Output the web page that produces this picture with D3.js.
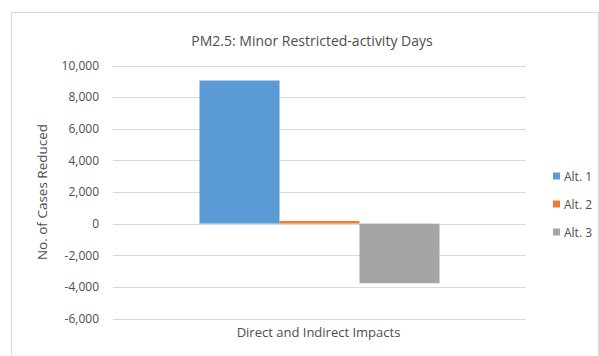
<!DOCTYPE html>
<html>
<head>
<meta charset="utf-8">
<script src="https://cdn.jsdelivr.net/npm/d3@7"></script>
<style>
  html, body { margin: 0; padding: 0; background: #fff; }
  svg { display: block; font-family: "Open Sans", "Liberation Sans", sans-serif; }
</style>
</head>
<body>
<svg id="chart" width="599" height="356"></svg>
<script>
// Chart data
const categories = ["Direct and Indirect Impacts"];
const seriesNames = ["Alt. 1", "Alt. 2", "Alt. 3"];
const seriesValues = [9050, 170, -3770];
const seriesColors = ["#5b9bd5", "#ed7d31", "#a5a5a5"];
const yTicks = [-6000, -4000, -2000, 0, 2000, 4000, 6000, 8000, 10000];
const titleText = "PM2.5: Minor Restricted-activity Days";
const yAxisTitle = "No. of Cases Reduced";

const svg = d3.select("#chart");
const W = 599, H = 356;
const textColor = "#4d4d4d";

// Outer chart frame
svg.append("rect")
  .attr("x", 11.5).attr("y", 12.5)
  .attr("width", W - 12).attr("height", H - 12)
  .attr("fill", "#fff").attr("stroke", "#d9d9d9").attr("stroke-width", 1);

const plot = { left: 113, right: 526, top: 65.5, bottom: 318.5 };

const y = d3.scaleLinear().domain([-6000, 10000]).range([plot.bottom, plot.top]);
const x0 = d3.scaleBand().domain(categories).range([plot.left, plot.right]).paddingInner(0).paddingOuter(0);
// Cluster width: three bars with a gap on each side of the group
const groupFrac = 240 / 413;
const x1 = d3.scaleBand().domain(seriesNames)
  .range([0, x0.bandwidth() * groupFrac]);
const groupOffset = (x0.bandwidth() * (1 - groupFrac)) / 2;

// Gridlines
svg.append("g")
  .selectAll("line")
  .data(yTicks)
  .join("line")
  .attr("x1", plot.left).attr("x2", plot.right)
  .attr("y1", d => Math.round(y(d)) + 0.5).attr("y2", d => Math.round(y(d)) + 0.5)
  .attr("stroke", "#d9d9d9").attr("stroke-width", 1);

// Y axis tick labels (plain hyphen for negatives)
const fmt = d3.format(",");
const yAxis = d3.axisLeft(y).tickValues(yTicks).tickSize(0).tickPadding(0)
  .tickFormat(d => fmt(d).replace("\u2212", "-"));
const gy = svg.append("g").attr("transform", `translate(${plot.left - 14},0)`).call(yAxis);
gy.select(".domain").remove();
gy.selectAll("text")
  .attr("fill", textColor)
  .style("font-family", "'Open Sans', 'Liberation Sans', sans-serif")
  .style("font-size", "12px");

// Bars
svg.append("g")
  .selectAll("rect")
  .data(seriesNames.map((n, i) => ({ name: n, value: seriesValues[i], color: seriesColors[i], cat: categories[0] })))
  .join("rect")
  .attr("x", d => x0(d.cat) + groupOffset + x1(d.name))
  .attr("width", x1.bandwidth())
  .attr("y", d => y(Math.max(0, d.value)))
  .attr("height", d => Math.abs(y(d.value) - y(0)))
  .attr("fill", d => d.color);

// Category label
svg.append("text")
  .attr("x", x0(categories[0]) + x0.bandwidth() / 2 - 1)
  .attr("y", 337)
  .attr("text-anchor", "middle")
  .attr("fill", textColor)
  .style("font-size", "13px")
  .text(categories[0]);

// Title
svg.append("text")
  .attr("x", 312).attr("y", 46)
  .attr("text-anchor", "middle")
  .attr("fill", textColor)
  .style("font-size", "14px")
  .text(titleText);

// Y axis title
svg.append("text")
  .attr("transform", `translate(47,${192}) rotate(-90)`)
  .attr("text-anchor", "middle")
  .attr("fill", textColor)
  .style("font-size", "13.5px")
  .text(yAxisTitle);

// Legend
const legend = svg.append("g");
const legendY = [176, 204, 232];
seriesNames.forEach((n, i) => {
  legend.append("rect")
    .attr("x", 553).attr("y", legendY[i] - 3.5)
    .attr("width", 7).attr("height", 7)
    .attr("fill", seriesColors[i]);
  legend.append("text")
    .attr("x", 564).attr("y", legendY[i] + 4.5)
    .attr("fill", textColor)
    .style("font-size", "12px")
    .text(n);
});
</script>
</body>
</html>
